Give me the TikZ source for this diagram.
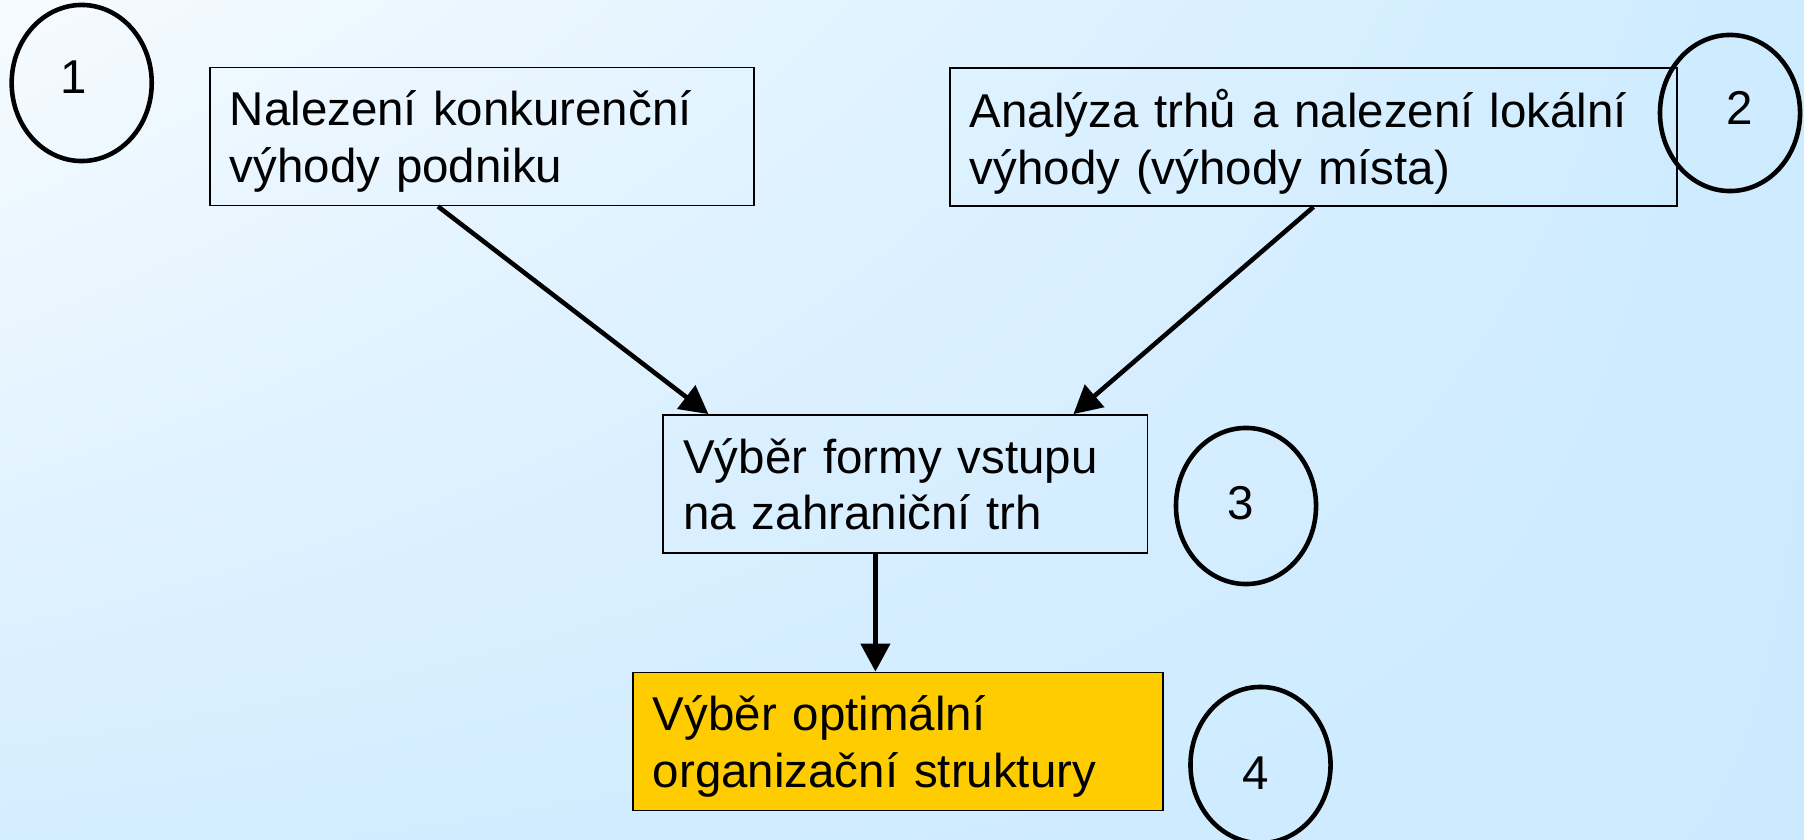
\documentclass[tikz,border=0pt]{standalone}
\usepackage{fontspec}
\setmainfont{Liberation Sans}
\usepackage{xcolor}
\usepackage{tikz}
\usetikzlibrary{shapes.geometric}
\usetikzlibrary{shadings}
\usetikzlibrary{arrows.meta}
\usetikzlibrary{calc}
\definecolor{goal}{HTML}{FFCC00}
\definecolor{bgul}{RGB}{246,251,255}
\definecolor{bgur}{RGB}{205,235,255}
\definecolor{bgll}{RGB}{212,237,255}
\definecolor{bglr}{RGB}{204,234,255}

\begin{document}
\begin{tikzpicture}[
  x=0.01cm, y=-0.01cm,
  dep/.style ={
    -{Triangle[length=2.8mm,width=2.9mm]},line width=1.3pt
  },
  box/.style={
    rectangle,
    draw=black,
    line width=0.5pt,
    align=left,
    text width=#1,
    text depth=16pt,
    inner xsep=2mm,
    minimum height=1.38cm,
    font=\fontsize{13.5}{16}\selectfont},
  num/.style={
    ellipse,
    draw=black,
    line width=1.3pt,
    inner sep=0pt,
    minimum width=1.4cm,
    minimum height=1.56cm},
  lbl/.style={
    inner sep=0pt,
    font=\fontsize{13.5}{16}\selectfont},
]

  \useasboundingbox (0,0) rectangle (1804,840);
  \shade[upper left=bgul, upper right=bgur, lower left=bgll, lower right=bglr]
      (0,0) rectangle (1804,840);

        \node[box=5.04cm] (box_1) 
            at (482, 136.5) {Nalezení konkurenční\\výhody podniku};
        \node[num] (num_1) 
            at (81.7, 83) {};
        \node[lbl] (lbl_1) at (74, 77) {1};

        \node[box=6.87cm] (box_2) 
            at (1313.5, 137) {Analýza trhů a nalezení lokální\\výhody (výhody místa)};
        \node[num] (num_2) 
            at (1730, 113) {};
        \node[lbl] (lbl_2) at (1740, 108) {2};

        \node[box=4.44cm] (box_3) 
            at (905.4, 484) {Výběr formy vstupu\\na zahraniční trh};
        \node[num] (num_3) 
            at (1246, 506) {};
        \node[lbl] (lbl_3) at (1240.7, 503) {3};

        \node[box=4.90cm, fill=goal] (box_4) 
            at (898, 741.5) {Výběr optimální\\organizační struktury};
        \node[num] (num_4) 
            at (1260.5, 765) {};
        \node[lbl] (lbl_4) at (1256, 773) {4};


        \draw[dep] ($(box_1.south)+(-44,0)$) to ($(box_3.north)+(-197,0)$);
        \draw[dep] (box_2.south) to ($(box_3.north)+(168,0)$);

        \draw[dep] ($(box_3.south)+(-30,0)$) coordinate (down) 
            to (down |- box_4.north);

\end{tikzpicture}
\end{document}
